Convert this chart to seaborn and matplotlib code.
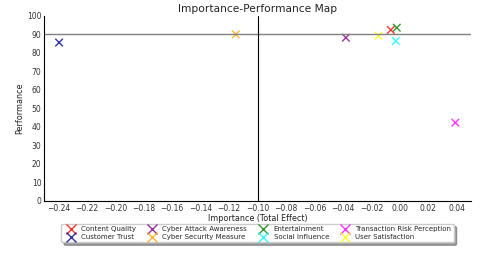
import pandas as pd
import seaborn as sns
import matplotlib.pyplot as plt

factors = ["Content Quality", "Customer Trust", "Cyber Attack Awareness",
           "Cyber Security Measure", "Entertainment", "Social Influence",
           "Transaction Risk Perception", "User Satisfaction"]
importance = [-0.0063, -0.2395, -0.0379, -0.1153, -0.0021, -0.0028, 0.0391, -0.0150]
performance = [92.4, 85.6, 88.2, 90.0, 93.6, 86.4, 42.3, 89.3]
colors = ["red", "darkblue", "purple", "orange", "green", "cyan", "magenta", "yellow"]

df = pd.DataFrame({"Factor": factors, "Importance": importance, "Performance": performance})

sns.set_style("white")
plt.rcParams["font.family"] = ["DejaVu Sans"]

fig = plt.figure(figsize=(4.8, 2.56), dpi=100)
ax = fig.add_axes([0.092, 0.215, 0.889, 0.723])

sns.scatterplot(data=df, x="Importance", y="Performance", hue="Factor",
                palette=colors, marker="x", s=30, linewidth=1.0, alpha=0.8, ax=ax)

# quadrant lines
ax.axhline(90, color="gray", linewidth=1.0)
ax.axvline(-0.10, color="black", linewidth=0.8)

ax.set_xlim(-0.25, 0.05)
ax.set_ylim(0, 100)
ax.set_xticks([round(-0.24 + 0.02 * i, 2) for i in range(15)])
ax.set_yticks(range(0, 101, 10))
ax.tick_params(direction="in", labelsize=5.5, length=3, width=0.6, pad=2,
               labelcolor="#333333")
sns.despine(ax=ax)
for sp in ["left", "bottom"]:
    ax.spines[sp].set_linewidth(0.8)
    ax.spines[sp].set_color("black")

ax.set_title("Importance-Performance Map", fontsize=7.7, pad=3, color="#222222")
ax.set_xlabel("Importance (Total Effect)", fontsize=5.8, labelpad=1, color="#222222")
ax.set_ylabel("Performance", fontsize=5.8, labelpad=2, color="#222222")

ax.legend(loc="upper center", bbox_to_anchor=(0.5, -0.105), ncol=4, fontsize=5.0,
          shadow=True, frameon=True, handletextpad=0.5, columnspacing=1.3,
          borderpad=0.35, labelspacing=0.25, markerscale=1.3, title=None)

plt.savefig("out.png", dpi=100)
